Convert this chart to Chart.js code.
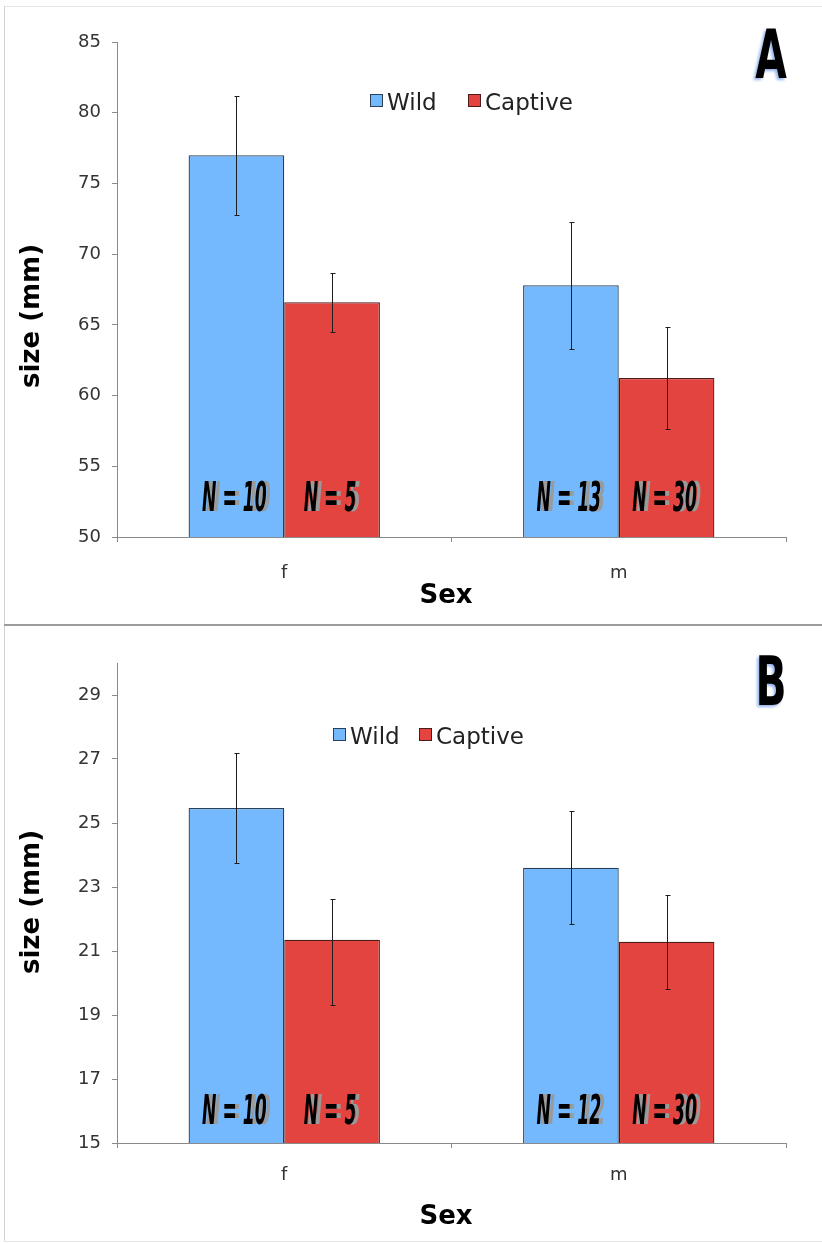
<!DOCTYPE html>
<html>
<head>
<meta charset="utf-8">
<script src="https://cdn.jsdelivr.net/npm/chart.js@4.4.1/dist/chart.umd.min.js"></script>
<style>
  body { margin: 0; background: #fff; width: 822px; height: 1243px; position: relative; overflow: hidden; }
  canvas { position: absolute; left: 0; }
  #cA { top: 0; }
  #cB { top: 627px; }
  .rule { position: absolute; }
</style>
</head>
<body>
<div class="rule" style="left:4px;top:6px;width:818px;height:1px;background:#e4e4e4"></div>
<div class="rule" style="left:4px;top:6px;width:1px;height:1236px;background:#d2d2d2"></div>
<div class="rule" style="left:4px;top:624px;width:818px;height:2px;background:#9c9c9c"></div>
<div class="rule" style="left:4px;top:1241px;width:818px;height:1px;background:#e4e4e4"></div>
<canvas id="cA" width="822" height="624"></canvas>
<canvas id="cB" width="822" height="614"></canvas>
<script>
/* ---- DATA ---------------------------------------------------- */
const sexes = ['f', 'm'];
const seriesNames = ['Wild', 'Captive'];
const seriesColors = ['#74b8fd', '#e4443f'];
const seriesBorders = ['#2b4057', '#4a1c1c'];

// Panel A
const wildA = [77.0, 67.8];
const wildUpA = [4.2, 4.5];
const wildDownA = [4.2, 4.5];
const captiveA = [66.6, 61.25];
const captiveUpA = [2.1, 3.6];
const captiveDownA = [2.1, 3.6];
const nWildA = [10, 13];
const nCaptiveA = [5, 30];
const ticksA = [50, 55, 60, 65, 70, 75, 80, 85];

// Panel B
const wildB = [25.47, 23.6];
const wildUpB = [1.72, 1.77];
const wildDownB = [1.72, 1.77];
const captiveB = [21.35, 21.29];
const captiveUpB = [1.27, 1.47];
const captiveDownB = [2.05, 1.47];
const nWildB = [10, 12];
const nCaptiveB = [5, 30];
const ticksB = [15, 17, 19, 21, 23, 25, 27, 29];

Chart.defaults.font.family = '"DejaVu Sans", sans-serif';

/* ---- PLUGIN: error bars, N labels, legend, titles ------------ */
const extras = {
  id: 'extras',
  afterDatasetsDraw(chart, args, o) {
    const ctx = chart.ctx;
    const y = chart.scales.y;
    ctx.save();
    ctx.strokeStyle = '#1e1e1e';
    ctx.lineWidth = 1;
    chart.data.datasets.forEach((ds, i) => {
      chart.getDatasetMeta(i).data.forEach((bar, j) => {
        const x = Math.round(bar.x) + 0.5;
        const top = Math.round(y.getPixelForValue(ds.data[j] + o.up[i][j])) + 0.5;
        const bot = Math.round(y.getPixelForValue(ds.data[j] - o.down[i][j])) + 0.5;
        ctx.beginPath();
        ctx.moveTo(x, top); ctx.lineTo(x, bot);
        ctx.moveTo(x - 2, top); ctx.lineTo(x + 3, top);
        ctx.moveTo(x - 2, bot); ctx.lineTo(x + 3, bot);
        ctx.stroke();
      });
    });

    // N = .. labels inside the bars
    ctx.font = 'italic bold 41px "DejaVu Sans"';
    ctx.textAlign = 'center';
    ctx.textBaseline = 'alphabetic';
    chart.data.datasets.forEach((ds, i) => {
      chart.getDatasetMeta(i).data.forEach((bar, j) => {
        const txt = 'N = ' + o.ns[i][j];
        const cy = y.getPixelForValue(o.nLevel);
        [['#9a9a9a', 2], ['#000', -2]].forEach(([c, dx]) => {
          ctx.save();
          ctx.translate(bar.x + dx, cy);
          ctx.scale(0.42, 1);
          ctx.fillStyle = c;
          ctx.fillText(txt, 0, 0);
          ctx.restore();
        });
      });
    });
    ctx.restore();
  },
  afterDraw(chart, args, o) {
    const ctx = chart.ctx;
    ctx.save();

    // legend
    ctx.font = '23px "DejaVu Sans"';
    ctx.textAlign = 'left';
    ctx.textBaseline = 'alphabetic';
    seriesNames.forEach((name, i) => {
      const lx = o.legendX[i];
      ctx.fillStyle = seriesColors[i];
      ctx.fillRect(lx, o.legendY, 12, 12);
      ctx.strokeStyle = seriesBorders[i];
      ctx.lineWidth = 1;
      ctx.strokeRect(lx + 0.5, o.legendY + 0.5, 12, 12);
      ctx.fillStyle = '#222';
      ctx.fillText(name, lx + 17, o.legendY + 16);
    });

    // axis titles
    ctx.fillStyle = '#000';
    ctx.font = 'bold 26px "DejaVu Sans"';
    ctx.textAlign = 'center';
    ctx.textBaseline = 'middle';
    ctx.fillText('Sex', 446, o.xTitleY);
    ctx.save();
    ctx.translate(32, o.yTitleY);
    ctx.rotate(-Math.PI / 2);
    ctx.fillText('size (mm)', 0, 0);
    ctx.restore();

    // panel letter
    ctx.save();
    ctx.font = 'bold 68px "DejaVu Sans"';
    ctx.textBaseline = 'alphabetic';
    ctx.translate(771, o.letterY);
    ctx.scale(0.6, 1);
    ctx.shadowColor = 'rgba(120,160,230,0.8)';
    ctx.shadowBlur = 3;
    ctx.shadowOffsetX = -2;
    ctx.shadowOffsetY = 2;
    ctx.fillStyle = '#000';
    ctx.fillText(o.letter, 0, 0);
    ctx.restore();

    ctx.restore();
  }
};

/* ---- CHARTS -------------------------------------------------- */
function makePanel(id, p) {
  return new Chart(document.getElementById(id), {
    type: 'bar',
    data: {
      labels: sexes,
      datasets: [
        { label: seriesNames[0], data: p.wild, backgroundColor: seriesColors[0], borderColor: seriesBorders[0], borderWidth: 1.3 },
        { label: seriesNames[1], data: p.captive, backgroundColor: seriesColors[1], borderColor: seriesBorders[1], borderWidth: 1.3 }
      ]
    },
    options: {
      responsive: false,
      animation: false,
      datasets: { bar: { categoryPercentage: 0.572, barPercentage: 1 } },
      layout: { padding: { left: 0, right: 36, top: p.top, bottom: 0 } },
      plugins: {
        legend: { display: false },
        tooltip: { enabled: false },
        extras: {
          up: p.up,
          down: p.down,
          ns: [p.nWild, p.nCaptive],
          nLevel: p.nLevel,
          legendX: p.legendX,
          legendY: p.legendY,
          xTitleY: p.xTitleY,
          yTitleY: p.yTitleY,
          letter: p.letter,
          letterY: p.letterY
        }
      },
      scales: {
        x: {
          grid: { offset: true, drawOnChartArea: false, tickLength: 5, color: '#8a8a8a' },
          border: { color: '#8a8a8a' },
          ticks: { padding: p.xPad, color: '#333', font: { size: 18 } },
          afterFit: s => { s.height = p.xHeight; }
        },
        y: {
          min: p.ticks[0],
          max: p.max,
          afterBuildTicks: s => { s.ticks = p.ticks.map(v => ({ value: v })); },
          grid: { drawOnChartArea: false, tickLength: 5, color: '#8a8a8a' },
          border: { color: '#8a8a8a' },
          ticks: { padding: 11, color: '#333', font: { size: 18 } },
          afterFit: s => { s.width = 117; }
        }
      }
    },
    plugins: [extras]
  });
}

makePanel('cA', {
  wild: wildA, captive: captiveA,
  up: [wildUpA, captiveUpA], down: [wildDownA, captiveDownA],
  nWild: nWildA, nCaptive: nCaptiveA, nLevel: 51.85,
  ticks: ticksA, max: 85, top: 42, xHeight: 87, xPad: 21,
  legendX: [370, 468], legendY: 94,
  xTitleY: 596, yTitleY: 316, letter: 'A', letterY: 78
});

makePanel('cB', {
  wild: wildB, captive: captiveB,
  up: [wildUpB, captiveUpB], down: [wildDownB, captiveDownB],
  nWild: nWildB, nCaptive: nCaptiveB, nLevel: 15.6,
  ticks: ticksB, max: 30, top: 36, xHeight: 98, xPad: 17,
  legendX: [333, 419], legendY: 101,
  xTitleY: 590, yTitleY: 275, letter: 'B', letterY: 78
});
</script>
</body>
</html>
